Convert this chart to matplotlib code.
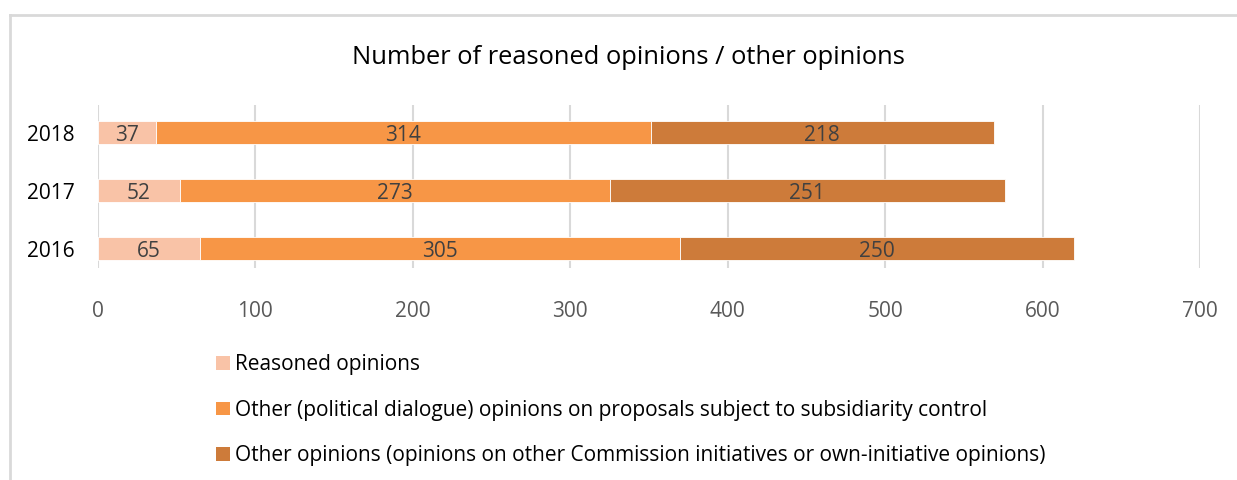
import numpy as np
import matplotlib.pyplot as plt
from matplotlib.patches import Patch
from matplotlib.lines import Line2D

plt.rcParams['font.family'] = ['Open Sans', 'DejaVu Sans']

years = ['2016', '2017', '2018']
reasoned = [65, 52, 37]
political = [305, 273, 314]
other = [250, 251, 218]

series = [reasoned, political, other]
names = ['Reasoned opinions',
         'Other (political dialogue) opinions on proposals subject to subsidiarity control',
         'Other opinions (opinions on other Commission initiatives or own-initiative opinions)']
colors = ['#F9C3A7', '#F79646', '#CD7B3A']

W, H = 1237, 480
fig = plt.figure(figsize=(W / 100, H / 100), dpi=100)
ax = fig.add_axes([98 / W, 1 - 268 / H, (1200 - 98) / W, (268 - 105) / H])

y = np.arange(len(years))
left = np.zeros(len(years))
for vals, c in zip(series, colors):
    bars = ax.barh(y, vals, left=left, height=0.4, color=c, edgecolor='white', linewidth=0.6, zorder=3)
    for b, v in zip(bars, vals):
        ax.text(b.get_x() + b.get_width() / 2, b.get_y() + b.get_height() / 2 - 0.05, str(v),
                ha='center', va='center', fontsize=15, color='#404040', zorder=4)
    left += np.array(vals)

ax.set_xlim(0, 700)
ax.set_ylim(-0.33, 2.48)
ax.set_xticks(np.arange(0, 701, 100))
ax.set_yticks(y)
ax.set_yticklabels(years)
ax.grid(axis='x', color='#D9D9D9', linewidth=1.5, zorder=0)
for s in ax.spines.values():
    s.set_visible(False)
ax.tick_params(axis='x', length=0, labelsize=15, labelcolor='#595959', pad=24)
ax.tick_params(axis='y', length=0, labelsize=15, labelcolor='black', pad=17)

fig.text(628 / W, 1 - 57 / H, 'Number of reasoned opinions / other opinions',
         ha='center', va='center', fontsize=18.4, color='black')

handles = [Patch(facecolor=c, edgecolor='none') for c in colors]
fig.legend(handles, names, loc='upper left', bbox_to_anchor=(206 / W, 1 - 344 / H),
           frameon=False, fontsize=15, handlelength=0.65, handleheight=0.65,
           handletextpad=0.25, labelspacing=1.17, borderpad=0)

# chart frame
fig.add_artist(Line2D([10 / W, 1], [1 - 15 / H, 1 - 15 / H], color='#D9D9D9', linewidth=2))
fig.add_artist(Line2D([10 / W, 10 / W], [0, 1 - 15 / H], color='#D9D9D9', linewidth=2))

fig.savefig('out.png', dpi=100)
